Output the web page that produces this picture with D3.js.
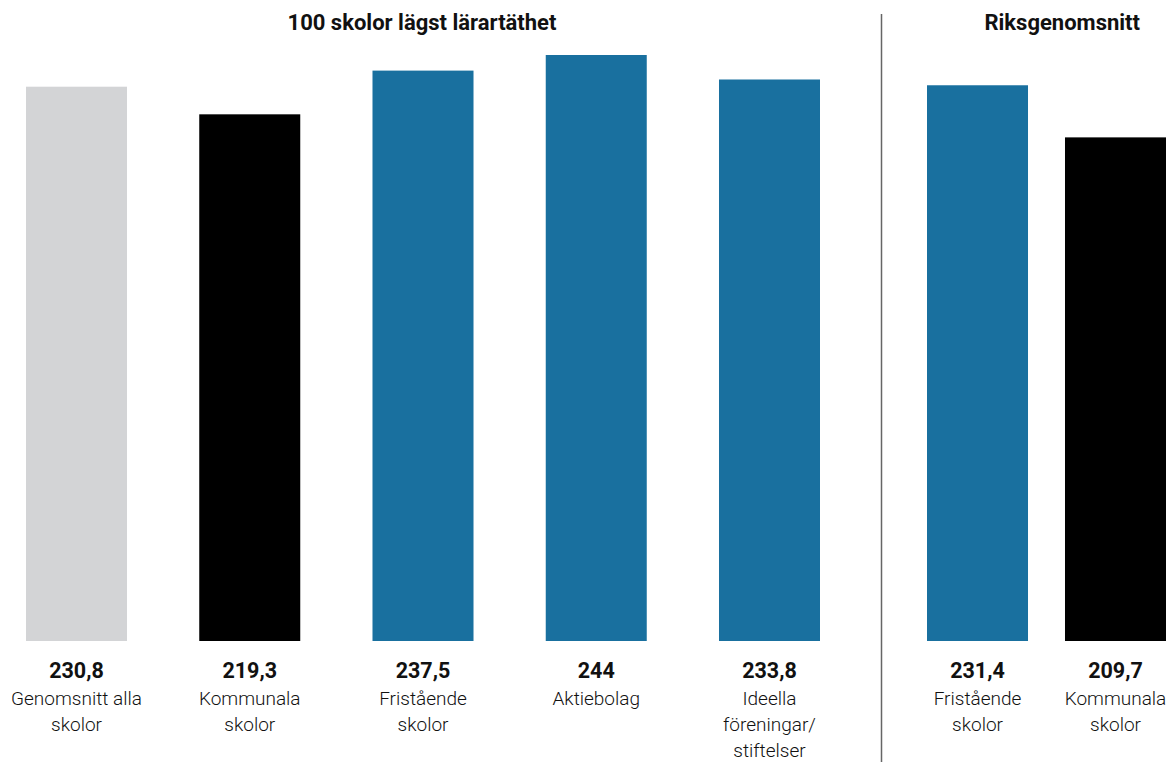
<!DOCTYPE html>
<html>
<head>
<meta charset="utf-8">
<script src="https://cdn.jsdelivr.net/npm/d3@7"></script>
<style>
html,body{margin:0;padding:0;background:#fff;}
svg{display:block;}
text{font-family:Roboto,"Open Sans",sans-serif;fill:#111;}
</style>
</head>
<body>
<svg id="chart" width="1168" height="762"></svg>
<script>
// Data
const leftCategories = ["Genomsnitt alla|skolor", "Kommunala|skolor", "Fristående|skolor", "Aktiebolag", "Ideella|föreningar/|stiftelser"];
const leftValues = [230.8, 219.3, 237.5, 244, 233.8];
const leftLabels = ["230,8", "219,3", "237,5", "244", "233,8"];
const leftColors = ["#d3d4d6", "#000000", "#19709f", "#19709f", "#19709f"];
const rightCategories = ["Fristående|skolor", "Kommunala|skolor"];
const rightValues = [231.4, 209.7];
const rightLabels = ["231,4", "209,7"];
const rightColors = ["#19709f", "#000000"];
const leftTitle = "100 skolor lägst lärartäthet";
const rightTitle = "Riksgenomsnitt";

const svg = d3.select("#chart");
const baseY = 641;
const y = d3.scaleLinear().domain([0, 244]).range([baseY, 55]);

function drawGroup(cats, vals, labels, colors, range, padInner) {
  const x = d3.scaleBand().domain(cats).range(range).paddingInner(padInner).paddingOuter(0);
  const g = svg.append("g");
  g.selectAll("rect").data(cats).join("rect")
    .attr("x", d => x(d))
    .attr("width", x.bandwidth())
    .attr("y", (d, i) => y(vals[i]))
    .attr("height", (d, i) => baseY - y(vals[i]))
    .attr("fill", (d, i) => colors[i]);
  g.selectAll("text.val").data(cats).join("text")
    .attr("class", "val")
    .attr("x", d => x(d) + x.bandwidth() / 2)
    .attr("y", 678)
    .attr("text-anchor", "middle")
    .style("font-size", "21.5px")
    .style("font-weight", "700")
    .text((d, i) => labels[i]);
  cats.forEach(c => {
    const lines = c.split("|");
    const t = g.append("text")
      .attr("x", x(c) + x.bandwidth() / 2)
      .attr("y", 705)
      .attr("text-anchor", "middle")
      .style("font-size", "19px")
      .style("font-weight", "300");
    lines.forEach((ln, j) => {
      t.append("tspan").attr("x", x(c) + x.bandwidth() / 2).attr("dy", j === 0 ? 0 : 26).text(ln);
    });
  });
  return x;
}

drawGroup(leftCategories, leftValues, leftLabels, leftColors, [26, 820], 0.417);
drawGroup(rightCategories, rightValues, rightLabels, rightColors, [927, 1166], 0.268);

svg.append("line")
  .attr("x1", 881.5).attr("x2", 881.5)
  .attr("y1", 14).attr("y2", 762)
  .attr("stroke", "#666").attr("stroke-width", 1.5);

svg.append("text")
  .attr("x", 422).attr("y", 30)
  .attr("text-anchor", "middle")
  .style("font-size", "22px").style("font-weight", "700")
  .text(leftTitle);
svg.append("text")
  .attr("x", 1140).attr("y", 30)
  .attr("text-anchor", "end")
  .style("font-size", "22px").style("font-weight", "700")
  .text(rightTitle);
</script>
</body>
</html>
